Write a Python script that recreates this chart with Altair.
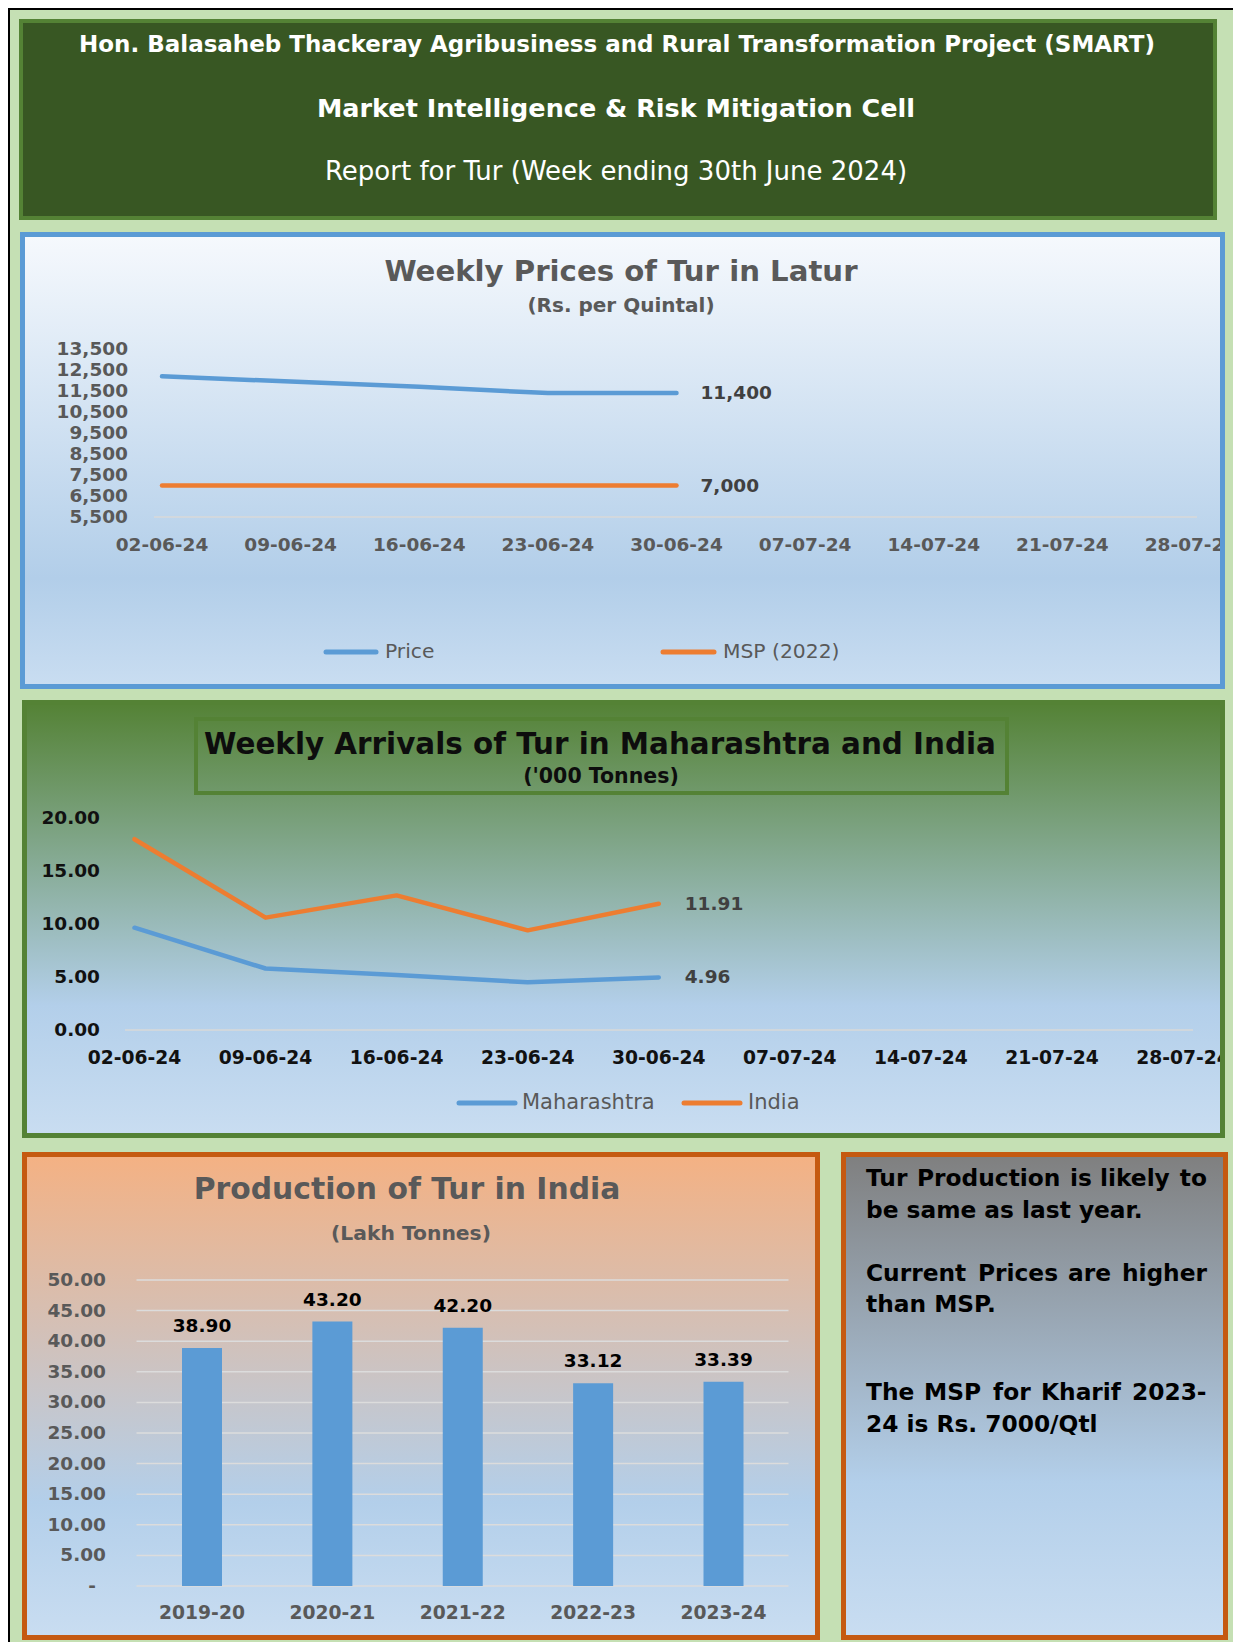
import altair as alt
import pandas as pd

# ---------------- data ----------------
weeks = ["02-06-24", "09-06-24", "16-06-24", "23-06-24", "30-06-24",
         "07-07-24", "14-07-24", "21-07-24", "28-07-24"]
price_series = ["Price", "MSP (2022)"]
price = [12200, 11950, 11700, 11400, 11400]
msp = [7000, 7000, 7000, 7000, 7000]
price_ticks = [5500, 6500, 7500, 8500, 9500, 10500, 11500, 12500, 13500]

arr_series = ["Maharashtra", "India"]
arr_mh = [9.65, 5.80, 5.20, 4.50, 4.96]
arr_in = [18.00, 10.60, 12.70, 9.40, 11.91]
arr_ticks = [0, 5, 10, 15, 20]

years = ["2019-20", "2020-21", "2021-22", "2022-23", "2023-24"]
prod = [38.90, 43.20, 42.20, 33.12, 33.39]
prod_ticks = [5, 10, 15, 20, 25, 30, 35, 40, 45, 50]

header_lines = ["Hon. Balasaheb Thackeray Agribusiness and Rural  Transformation Project (SMART)",
                "Market Intelligence & Risk Mitigation Cell",
                "Report for Tur (Week ending  30th June 2024)"]
note_lines = ["Tur Production is likely to", "be same as last year.",
              "Current Prices are higher", "than MSP.",
              "The MSP for Kharif 2023-", "24 is Rs. 7000/Qtl"]

# ---------------- layout helpers ----------------
OFF = 8
W, H = 1225, 1634
FONT = "DejaVu Sans"
BLUE, ORANGE = "#5b9bd5", "#ed7d31"
BG = "#c5e0b4"
ONE = pd.DataFrame({"k": [0]})
D1 = 0   # vertical nudge for chart 1 content
D3 = 0   # vertical nudge for chart 3 / note content


def p(v):
    return v - OFF


def grad(stops):
    return alt.Gradient(gradient="linear",
                        stops=[alt.GradientStop(offset=o, color=c) for o, c in stops],
                        x1=0, x2=0, y1=0, y2=1)


def box(x0, y0, x1, y1, fill=None, stroke=None, sw=0):
    kw = {"fill": fill if fill is not None else "transparent"}
    if stroke is not None:
        kw["stroke"] = stroke
        kw["strokeWidth"] = sw
    return alt.Chart(ONE).mark_rect(**kw).encode(
        x=alt.value(p(x0)), x2=alt.value(p(x1)),
        y=alt.value(p(y0)), y2=alt.value(p(y1)))


def texts(rows, **mark):
    df = pd.DataFrame(rows, columns=["t", "x", "y"])
    df["x"] = df["x"] - OFF
    df["y"] = df["y"] - OFF
    base = dict(font=FONT, baseline="middle", align="center")
    base.update(mark)
    return alt.Chart(df).mark_text(**base).encode(
        x=alt.X("x:Q", scale=None, axis=None),
        y=alt.Y("y:Q", scale=None, axis=None),
        text="t:N")


def legend_line(x0, x1, y, color):
    return alt.Chart(ONE).mark_rule(strokeWidth=5, strokeCap="round", color=color).encode(
        x=alt.value(p(x0)), x2=alt.value(p(x1)), y=alt.value(p(y)))


layers = []

# outer page border (left/top)
layers.append(alt.Chart(ONE).mark_rule(color="#000000", strokeWidth=2).encode(
    x=alt.value(1), y=alt.value(0), y2=alt.value(H)))
layers.append(alt.Chart(ONE).mark_rule(color="#000000", strokeWidth=2).encode(
    y=alt.value(1), x=alt.value(0), x2=alt.value(W)))

# ---------------- header ----------------
layers.append(box(21, 21, 1215, 218, fill="#385723", stroke="#548235", sw=4))
layers.append(texts([(header_lines[0], 617, 45)], fontWeight="bold", fontSize=23, color="#ffffff"))
layers.append(texts([(header_lines[1], 616, 109)], fontWeight="bold", fontSize=25.5, color="#ffffff"))
layers.append(texts([(header_lines[2], 616, 172)], fontWeight="normal", fontSize=26, color="#ffffff"))

# ---------------- chart 1 : weekly prices ----------------
layers.append(box(22.5, 234.5, 1222.5, 686.5,
                  fill=grad([(0, "#f6f9fd"), (0.76, "#b2cee9"), (1, "#c9ddf1")])))
x1s = alt.Scale(domain=[0, 8], range=[p(162), p(1191)], padding=0, nice=False, zero=False)
y1s = alt.Scale(domain=[5500, 13500], range=[p(517 + D1), p(349 + D1)], zero=False, nice=False, padding=0)

c1_base = alt.Chart(pd.DataFrame({"v": [price_ticks[0]]})).mark_rule(
    color="#d9d9d9", strokeWidth=1.5).encode(
    y=alt.Y("v:Q", scale=y1s, axis=None), x=alt.value(p(154)), x2=alt.value(p(1197)))
df1 = pd.DataFrame({"i": list(range(5)) * 2, "val": price + msp,
                    "s": [price_series[0]] * 5 + [price_series[1]] * 5})
c1_lines = alt.Chart(df1).mark_line(strokeWidth=4.5, strokeCap="round", strokeJoin="round").encode(
    x=alt.X("i:Q", scale=x1s, axis=None),
    y=alt.Y("val:Q", scale=y1s, axis=None),
    color=alt.Color("s:N", scale=alt.Scale(domain=price_series, range=[BLUE, ORANGE]), legend=None))
c1_ylab = alt.Chart(pd.DataFrame({"v": price_ticks})).transform_calculate(
    lab="format(datum.v, ',')").mark_text(
    font=FONT, fontWeight="bold", fontSize=18.5, color="#595959", align="right", baseline="middle").encode(
    y=alt.Y("v:Q", scale=y1s, axis=None), x=alt.value(p(128)), text="lab:N")
c1_xlab = alt.Chart(pd.DataFrame({"i": list(range(9)), "w": weeks})).mark_text(
    font=FONT, fontWeight="bold", fontSize=18.5, color="#595959", align="center", baseline="middle").encode(
    x=alt.X("i:Q", scale=x1s, axis=None), y=alt.value(p(545 + D1)), text="w:N")
c1_end = alt.Chart(pd.DataFrame({"i": [4, 4], "val": [price[-1], msp[-1]]})).transform_calculate(
    lab="format(datum.val, ',')").mark_text(
    font=FONT, fontWeight="bold", fontSize=18.5, color="#404040", align="left", baseline="middle", dx=24).encode(
    x=alt.X("i:Q", scale=x1s, axis=None), y=alt.Y("val:Q", scale=y1s, axis=None), text="lab:N")
layers.append(alt.layer(c1_base, c1_lines, c1_ylab, c1_xlab, c1_end))

layers.append(texts([("Weekly Prices of Tur in Latur", 621, 272 + D1)], fontWeight="bold", fontSize=29.2, color="#595959"))
layers.append(texts([("(Rs. per Quintal)", 621, 306 + D1)], fontWeight="bold", fontSize=20, color="#595959"))
layers.append(legend_line(326, 376, 652 + D1, BLUE))
layers.append(legend_line(663, 714, 652 + D1, ORANGE))
layers.append(texts([(price_series[0], 385, 652 + D1), (price_series[1], 723, 652 + D1)],
                    align="left", fontSize=20.3, color="#595959"))
# border drawn on top (clips the last label like the reference)
layers.append(alt.Chart(ONE).mark_rect(fill=BG).encode(
    x=alt.value(p(1224)), x2=alt.value(W), y=alt.value(p(230)), y2=alt.value(p(692))))
layers.append(box(22.5, 234.5, 1222.5, 686.5, stroke=BLUE, sw=5))

# ---------------- chart 2 : weekly arrivals ----------------
layers.append(box(24.5, 702.5, 1222.5, 1135.5,
                  fill=grad([(0, "#548235"), (0.7, "#b3cfea"), (1, "#c9ddf1")])))
x2s = alt.Scale(domain=[0, 8], range=[p(134.5), p(1183)], padding=0, nice=False, zero=False)
y2s = alt.Scale(domain=[0, 20], range=[p(1030), p(818)], nice=False, padding=0)
c2_base = alt.Chart(pd.DataFrame({"v": [0]})).mark_rule(color="#d9d9d9", strokeWidth=1.5).encode(
    y=alt.Y("v:Q", scale=y2s, axis=None), x=alt.value(p(125)), x2=alt.value(p(1193)))
df2 = pd.DataFrame({"i": list(range(5)) * 2, "val": arr_mh + arr_in,
                    "s": [arr_series[0]] * 5 + [arr_series[1]] * 5})
c2_lines = alt.Chart(df2).mark_line(strokeWidth=4.5, strokeCap="round", strokeJoin="round").encode(
    x=alt.X("i:Q", scale=x2s, axis=None),
    y=alt.Y("val:Q", scale=y2s, axis=None),
    color=alt.Color("s:N", scale=alt.Scale(domain=arr_series, range=[BLUE, ORANGE]), legend=None))
c2_ylab = alt.Chart(pd.DataFrame({"v": arr_ticks})).transform_calculate(
    lab="format(datum.v, '.2f')").mark_text(
    font=FONT, fontWeight="bold", fontSize=18.5, color="#111111", align="right", baseline="middle").encode(
    y=alt.Y("v:Q", scale=y2s, axis=None), x=alt.value(p(100)), text="lab:N")
c2_xlab = alt.Chart(pd.DataFrame({"i": list(range(9)), "w": weeks})).mark_text(
    font=FONT, fontWeight="bold", fontSize=18.7, color="#111111", align="center", baseline="middle").encode(
    x=alt.X("i:Q", scale=x2s, axis=None), y=alt.value(p(1058)), text="w:N")
c2_end = alt.Chart(pd.DataFrame({"i": [4, 4], "val": [arr_in[-1], arr_mh[-1]]})).transform_calculate(
    lab="format(datum.val, '.2f')").mark_text(
    font=FONT, fontWeight="bold", fontSize=18.5, color="#404040", align="left", baseline="middle", dx=26).encode(
    x=alt.X("i:Q", scale=x2s, axis=None), y=alt.Y("val:Q", scale=y2s, axis=None), text="lab:N")
layers.append(alt.layer(c2_base, c2_lines, c2_ylab, c2_xlab, c2_end))

layers.append(box(196, 719, 1007, 793, stroke="#548235", sw=4))
layers.append(texts([("Weekly Arrivals of Tur in Maharashtra and India", 600, 745)],
                    fontWeight="bold", fontSize=29.4, color="#0d0d0d"))
layers.append(texts([("('000 Tonnes)", 601, 777)], fontWeight="bold", fontSize=20.5, color="#0d0d0d"))
layers.append(legend_line(459, 515, 1103, BLUE))
layers.append(legend_line(684, 740, 1103, ORANGE))
layers.append(texts([(arr_series[0], 522, 1103), (arr_series[1], 748, 1103)],
                    align="left", fontSize=21, color="#595959"))
layers.append(alt.Chart(ONE).mark_rect(fill=BG).encode(
    x=alt.value(p(1225)), x2=alt.value(W), y=alt.value(p(698)), y2=alt.value(p(1140))))
layers.append(box(24.5, 702.5, 1222.5, 1135.5, stroke="#548235", sw=5))

# ---------------- chart 3 : production ----------------
layers.append(box(24.5, 1154.5, 817.5, 1637.5,
                  fill=grad([(0, "#f4b183"), (0.72, "#b3cfea"), (1, "#c9ddf1")]),
                  stroke="#c55a11", sw=5))
x3s = alt.Scale(domain=[0, 4], range=[p(202), p(723.5)], padding=0, nice=False, zero=False)
y3s = alt.Scale(domain=[0, 50], range=[p(1586 + D3), p(1280 + D3)], nice=False, padding=0)
c3_grid = alt.Chart(pd.DataFrame({"v": [0] + prod_ticks})).mark_rule(
    color="#dcdcdc", strokeWidth=1.5).encode(
    y=alt.Y("v:Q", scale=y3s, axis=None), x=alt.value(p(136.5)), x2=alt.value(p(788.5)))
df3 = pd.DataFrame({"i": list(range(5)), "yr": years, "v": prod})
c3_bars = alt.Chart(df3).mark_bar(width=40, color=BLUE, orient="vertical").encode(
    x=alt.X("i:Q", scale=x3s, axis=None), y=alt.Y("v:Q", scale=y3s, axis=None))
c3_vlab = alt.Chart(df3).transform_calculate(lab="format(datum.v, '.2f')").mark_text(
    font=FONT, fontWeight="bold", fontSize=18.5, color="#000000", align="center", baseline="middle", dy=-22).encode(
    x=alt.X("i:Q", scale=x3s, axis=None), y=alt.Y("v:Q", scale=y3s, axis=None), text="lab:N")
c3_xlab = alt.Chart(df3).mark_text(
    font=FONT, fontWeight="bold", fontSize=18.7, color="#595959", align="center", baseline="middle").encode(
    x=alt.X("i:Q", scale=x3s, axis=None), y=alt.value(p(1613 + D3)), text="yr:N")
c3_ylab = alt.Chart(pd.DataFrame({"v": prod_ticks})).transform_calculate(
    lab="format(datum.v, '.2f')").mark_text(
    font=FONT, fontWeight="bold", fontSize=18.5, color="#595959", align="right", baseline="middle").encode(
    y=alt.Y("v:Q", scale=y3s, axis=None), x=alt.value(p(106)), text="lab:N")
c3_zero = alt.Chart(pd.DataFrame({"v": [0], "lab": ["-"]})).mark_text(
    font=FONT, fontWeight="bold", fontSize=18.5, color="#595959", align="center", baseline="middle").encode(
    y=alt.Y("v:Q", scale=y3s, axis=None), x=alt.value(p(92)), text="lab:N")
layers.append(alt.layer(c3_grid, c3_bars, c3_vlab, c3_xlab, c3_ylab, c3_zero))
layers.append(texts([("Production of Tur in India", 407, 1190 + D3)], fontWeight="bold", fontSize=29.8, color="#595959"))
layers.append(texts([("(Lakh Tonnes)", 411, 1234 + D3)], fontWeight="bold", fontSize=20.3, color="#595959"))

# ---------------- note box ----------------
layers.append(box(843.5, 1154.5, 1225.5, 1637.5,
                  fill=grad([(0, "#7f7f7f"), (0.68, "#b3cfea"), (1, "#c9ddf1")]),
                  stroke="#c55a11", sw=5))
NOTE = dict(fontWeight="bold", fontSize=23.3, color="#000000")
ny = [1179 + D3, 1211 + D3, 1274 + D3, 1305 + D3, 1393 + D3, 1425 + D3]
# justified lines: words placed across the full text width
just = {0: [866, 917, 1070, 1100, 1180], 2: [866, 978, 1068, 1122], 4: [866, 924, 993, 1041, 1132]}
rows_left, rows_right = [], []
for k, line in enumerate(note_lines):
    if k in just:
        words = line.split(" ")
        for j, (wd, xx) in enumerate(zip(words, just[k])):
            if j == len(words) - 1 and k != 4:
                rows_right.append((wd, 1207, ny[k]))
            else:
                rows_left.append((wd, xx, ny[k]))
    else:
        rows_left.append((line, 866, ny[k]))
layers.append(texts(rows_left, align="left", **NOTE))
layers.append(texts(rows_right, align="right", **NOTE))

chart = alt.layer(*layers).resolve_scale(
    x="independent", y="independent", color="independent"
).properties(
    width=W, height=H, background=BG, padding=0,
    autosize=alt.AutoSizeParams(type="none")
).configure_view(stroke=None)

chart.save("out.html", embed_options={"renderer": "svg", "actions": False})
